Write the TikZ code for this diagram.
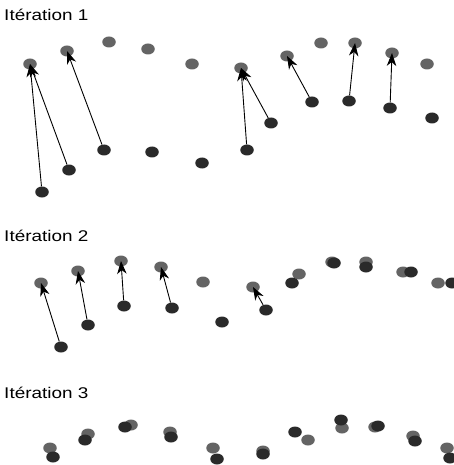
\documentclass[tikz,border=0pt]{standalone}
\usepackage{fontspec}
\setmainfont{Liberation Sans}
\usetikzlibrary{shapes.geometric,arrows.meta}
\definecolor{graydot}{HTML}{646464}
\definecolor{darkdot}{HTML}{2A2A2A}
\tikzset{
  gdot/.style={ellipse,fill=graydot,draw=none,inner sep=0pt,minimum width=13.5pt,minimum height=11pt},
  ddot/.style={ellipse,fill=darkdot,draw=none,inner sep=0pt,minimum width=13.5pt,minimum height=11pt},
  mv/.style={line width=0.9pt,-{Stealth[length=13pt,width=9.5pt,inset=4pt]}},
  title/.style={anchor=base west,inner sep=0pt,xscale=1.22,font=\fontsize{15.5}{18}\selectfont}
}
\begin{document}
\begin{tikzpicture}[x=1pt,y=-1pt]
\useasboundingbox[fill=white] (0,0) rectangle (453,465);
% titles
\node[title] (t1) at (4,21) {Itération 1};
\node[title] (t2) at (4,241) {Itération 2};
\node[title] (t3) at (4,398) {Itération 3};
% iteration 1
\foreach \n/\x/\y in {1/30/64,2/67/51,3/109/42,4/148/49,5/192/64,6/241/68,7/287/56,8/321/43,9/355/43,10/392/53,11/427/64}
  \node[gdot] (ga\n) at (\x,\y) {};
\foreach \n/\x/\y in {1/42/192,2/69/170,3/104/150,4/152/152,5/202/163,6/247/150,7/271/123,8/312/102,9/349/101,10/390/108,11/432/118}
  \node[ddot] (da\n) at (\x,\y) {};
\draw[mv] (da1) -- (ga1.center);
\draw[mv] (da2) -- (ga1.center);
\draw[mv] (da3) -- (ga2.center);
\draw[mv] (da6) -- (ga6.center);
\draw[mv] (da7) -- (ga6.center);
\draw[mv] (da8) -- (ga7.center);
\draw[mv] (da9) -- (ga9.center);
\draw[mv] (da10) -- (ga10.center);
% iteration 2
\foreach \n/\x/\y in {1/41/283,2/78/271,3/121/261,4/161/267,5/203/282,6/253/287,7/299/274,8/332/262,9/366/262,10/403/272,11/438/283}
  \node[gdot] (gb\n) at (\x,\y) {};
\foreach \n/\x/\y in {1/61/347,2/88/325,3/124/306,4/172/308,5/222/322,6/266/310,7/292/283,8/334/263,9/366/267,10/411/272,11/452/283}
  \node[ddot] (db\n) at (\x,\y) {};
\draw[mv] (db1) -- (gb1.center);
\draw[mv] (db2) -- (gb2.center);
\draw[mv] (db3) -- (gb3.center);
\draw[mv] (db4) -- (gb4.center);
\draw[mv] (db6) -- (gb6.center);
% iteration 3
\foreach \n/\x/\y in {1/50/448,2/88/434,3/131/425,4/170/432,5/213/448,6/263/451,7/308/440,8/342/428,9/375/427,10/413/436,11/447/448}
  \node[gdot] (gc\n) at (\x,\y) {};
\foreach \n/\x/\y in {1/53/457,2/85/440,3/125/427,4/171/437,5/217/459,6/263/454,7/295/432,8/341/420,9/378/426,10/415/441,11/450/458}
  \node[ddot] (dc\n) at (\x,\y) {};
\end{tikzpicture}
\end{document}
